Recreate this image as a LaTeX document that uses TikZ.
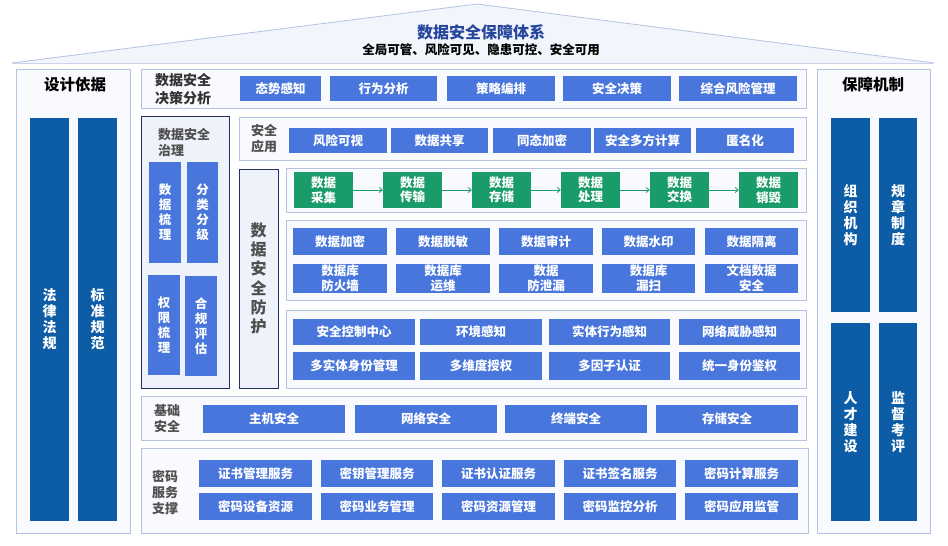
\documentclass[tikz,border=0pt]{standalone}
\usepackage{fontspec}
\setmainfont{Noto Sans CJK SC}
\usetikzlibrary{arrows.meta}
\definecolor{boxblue}{RGB}{72,118,220}
\definecolor{barblue}{RGB}{13,93,166}
\definecolor{gbox}{RGB}{26,155,106}
\definecolor{outline}{RGB}{182,194,228}
\definecolor{panelfill}{RGB}{248,250,254}
\definecolor{navy}{RGB}{36,48,96}
\definecolor{navyfill}{RGB}{238,242,251}
\definecolor{titleblue}{RGB}{38,70,156}
\definecolor{labelgray}{RGB}{80,80,80}
\definecolor{rooffill}{RGB}{242,246,252}
\newcommand\rect[7][]{\node[#1, minimum width={#5pt-#3pt}, minimum height={#6pt-#4pt}] (#2) at ({(#3+#5)/2},{(#4+#6)/2}) {#7};}
\tikzset{
  bx/.style={fill=boxblue, text=white, inner sep=0pt, align=center, font=\fontsize{12.5}{15}\selectfont\bfseries},
  gbx/.style={fill=gbox, text=white, inner sep=0pt, align=center, font=\fontsize{12.5}{14.5}\selectfont\bfseries},
  bar/.style={fill=barblue, text=white, inner sep=0pt, align=center, font=\fontsize{14}{16}\selectfont\bfseries},
  ibar/.style={fill=boxblue, text=white, inner sep=0pt, align=center, font=\fontsize{12.5}{15}\selectfont\bfseries},
  panel/.style={draw=outline, fill=panelfill, line width=0.8pt, inner sep=0pt},
  npanel/.style={draw=navy, fill=navyfill, line width=0.8pt, inner sep=0pt},
  lbl/.style={text=labelgray, inner sep=0pt, align=center, font=\fontsize{13}{16}\selectfont\bfseries},
  garrow/.style={draw=gbox, line width=0.8pt, -{Straight Barb[length=3pt,width=5pt]}},
}
\begin{document}
\begin{tikzpicture}[x=1pt,y=-1pt]
\useasboundingbox (0,0) rectangle (948,546);
\fill[white] (0,0) rectangle (948,546);
% roof
\fill[rooffill] (12,63) -- (477,4) -- (934,63) -- cycle;
\draw[outline, line width=0.8pt] (12,63) -- (477,4) -- (934,63);
\draw[outline!70, line width=0.8pt] (12,63) -- (934,63);
\node[text=titleblue, font=\fontsize{16}{18}\selectfont\bfseries, inner sep=0pt] (title) at (481,32) {数据安全保障体系};
\node[text=black, font=\fontsize{12.5}{14}\selectfont\bfseries, inner sep=0pt] (subtitle) at (481,50) {全局可管、风险可见、隐患可控、安全可用};
% left panel
\rect[panel]{lp}{16}{69}{130}{533}{}
\node[font=\fontsize{15.5}{18}\selectfont\bfseries, inner sep=0pt] (lpt) at (75,85) {设计依据};
\rect[bar]{lb1}{30}{118}{69}{521}{法\\律\\法\\规}
\rect[bar]{lb2}{78}{118}{117}{521}{标\\准\\规\\范}
% right panel
\rect[panel]{rp}{817}{69}{930}{533}{}
\node[font=\fontsize{15.5}{18}\selectfont\bfseries, inner sep=0pt] (rpt) at (873,85) {保障机制};
\rect[bar]{rb1}{831}{118}{870}{312}{组\\织\\机\\构}
\rect[bar]{rb2}{879}{118}{917}{312}{规\\章\\制\\度}
\rect[bar]{rb3}{831}{323}{870}{521}{人\\才\\建\\设}
\rect[bar]{rb4}{879}{323}{917}{521}{监\\督\\考\\评}
% decision row
\rect[panel]{dp}{141}{69}{806}{108}{}
\node[lbl, text=black!80, font=\fontsize{14}{18}\selectfont\bfseries] (dpl) at (183,89) {数据安全\\决策分析};
\rect[bx]{d1}{240}{76}{321}{101}{态势感知}
\rect[bx]{d2}{330}{76}{437}{101}{行为分析}
\rect[bx]{d3}{447}{76}{555}{101}{策略编排}
\rect[bx]{d4}{563}{76}{671}{101}{安全决策}
\rect[bx]{d5}{679}{76}{797}{101}{综合风险管理}
% governance
\rect[npanel]{gp}{141}{116}{229}{388}{}
\node[lbl, anchor=west, align=left] (gpl) at (158,142) {数据安全\\治理};
\rect[ibar]{g1}{149}{162}{181}{263}{数\\据\\梳\\理}
\rect[ibar]{g2}{187}{162}{218}{263}{分\\类\\分\\级}
\rect[ibar]{g3}{148}{275}{180}{375}{权\\限\\梳\\理}
\rect[ibar]{g4}{185}{276}{217}{376}{合\\规\\评\\估}
% application
\rect[panel]{ap}{239}{117}{806}{160}{}
\node[lbl] (apl) at (264,139) {安全\\应用};
\rect[bx]{a1}{289}{128}{387}{153}{风险可视}
\rect[bx]{a2}{391}{128}{488}{153}{数据共享}
\rect[bx]{a3}{493}{128}{591}{153}{同态加密}
\rect[bx]{a4}{594}{128}{691}{153}{安全多方计算}
\rect[bx]{a5}{696}{128}{794}{153}{匿名化}
% protection label
\rect[npanel, text=labelgray, align=center, font=\fontsize{16}{19.2}\selectfont\bfseries]{pp}{239}{169}{278}{388}{数\\据\\安\\全\\防\\护}
% lifecycle
\rect[panel]{lc}{286}{168}{806}{212}{}
\rect[gbx]{c1}{294}{172}{353}{208}{数据\\采集}
\rect[gbx]{c2}{383}{172}{442}{208}{数据\\传输}
\rect[gbx]{c3}{472}{172}{531}{208}{数据\\存储}
\rect[gbx]{c4}{561}{172}{620}{208}{数据\\处理}
\rect[gbx]{c5}{650}{172}{709}{208}{数据\\交换}
\rect[gbx]{c6}{739}{172}{798}{208}{数据\\销毁}
\draw[garrow] (c1) -- (c2);
\draw[garrow] (c2) -- (c3);
\draw[garrow] (c3) -- (c4);
\draw[garrow] (c4) -- (c5);
\draw[garrow] (c5) -- (c6);
% block 2
\rect[panel]{b2}{286}{220}{806}{300}{}
\rect[bx]{e1}{293}{228}{387}{255}{数据加密}
\rect[bx]{e2}{396}{228}{490}{255}{数据脱敏}
\rect[bx]{e3}{499}{228}{593}{255}{数据审计}
\rect[bx]{e4}{602}{228}{695}{255}{数据水印}
\rect[bx]{e5}{705}{228}{798}{255}{数据隔离}
\rect[bx]{f1}{293}{264}{387}{293}{数据库\\防火墙}
\rect[bx]{f2}{396}{264}{490}{293}{数据库\\运维}
\rect[bx]{f3}{499}{264}{593}{293}{数据\\防泄漏}
\rect[bx]{f4}{602}{264}{695}{293}{数据库\\漏扫}
\rect[bx]{f5}{705}{264}{798}{293}{文档数据\\安全}
% block 3
\rect[panel]{b3}{286}{310}{806}{388}{}
\rect[bx]{h1}{293}{319}{415}{345}{安全控制中心}
\rect[bx]{h2}{420}{319}{542}{345}{环境感知}
\rect[bx]{h3}{549}{319}{670}{345}{实体行为感知}
\rect[bx]{h4}{679}{319}{800}{345}{网络威胁感知}
\rect[bx]{k1}{293}{352}{415}{380}{多实体身份管理}
\rect[bx]{k2}{420}{352}{542}{380}{多维度授权}
\rect[bx]{k3}{549}{352}{670}{380}{多因子认证}
\rect[bx]{k4}{679}{352}{800}{380}{统一身份鉴权}
% base security
\rect[panel]{bp}{141}{396}{806}{440}{}
\node[lbl] (bpl) at (167,419) {基础\\安全};
\rect[bx]{m1}{203}{405}{345}{433}{主机安全}
\rect[bx]{m2}{355}{405}{497}{433}{网络安全}
\rect[bx]{m3}{505}{405}{647}{433}{终端安全}
\rect[bx]{m4}{656}{405}{798}{433}{存储安全}
% crypto
\rect[panel]{cp}{141}{448}{808}{533}{}
\node[lbl] (cpl) at (165,492) {密码\\服务\\支撑};
\rect[bx]{p1}{199}{460}{312}{487}{证书管理服务}
\rect[bx]{p2}{321}{460}{433}{487}{密钥管理服务}
\rect[bx]{p3}{442}{460}{555}{487}{证书认证服务}
\rect[bx]{p4}{564}{460}{676}{487}{证书签名服务}
\rect[bx]{p5}{685}{460}{798}{487}{密码计算服务}
\rect[bx]{q1}{199}{493}{312}{520}{密码设备资源}
\rect[bx]{q2}{321}{493}{433}{520}{密码业务管理}
\rect[bx]{q3}{442}{493}{555}{520}{密码资源管理}
\rect[bx]{q4}{564}{493}{676}{520}{密码监控分析}
\rect[bx]{q5}{685}{493}{798}{520}{密码应用监管}
\end{tikzpicture}
\end{document}
